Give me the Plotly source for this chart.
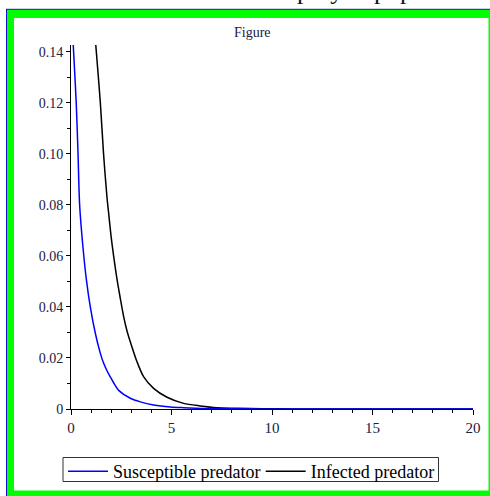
import plotly.graph_objects as go

# ---------------- data ----------------
t_susceptible = [0.05, 0.13, 0.26, 0.35, 0.43, 0.60, 0.76, 0.96, 1.21, 1.46, 1.62, 1.79,
                 1.96, 2.12, 2.40, 2.95, 3.45, 4.11, 4.94, 5.60, 6.20, 6.80, 7.50, 8.50,
                 10, 12, 15, 20]
v_susceptible = [0.152, 0.140, 0.120, 0.100, 0.080, 0.063, 0.051, 0.040, 0.0297, 0.0218,
                 0.0180, 0.0150, 0.0125, 0.0103, 0.0071, 0.0042, 0.0028, 0.0016, 0.0008,
                 0.0005, 0.0003, 0.0002, 0.0001, 0.00005, 0.00002, 0.00001, 0, 0]

t_infected = [1.14, 1.26, 1.46, 1.62, 1.79, 1.87, 1.99, 2.12, 2.29, 2.45, 2.62, 2.79,
              3.03, 3.28, 3.61, 4.11, 4.78, 5.60, 6.43, 7.26, 8.26, 9.5, 11, 13, 16, 20]
v_infected = [0.152, 0.140, 0.120, 0.100, 0.083, 0.077, 0.068, 0.060, 0.0508, 0.0435,
              0.0362, 0.0305, 0.0244, 0.0186, 0.0127, 0.0081, 0.0046, 0.0022, 0.0012,
              0.0005, 0.0003, 0.0001, 0.00004, 0.00001, 0, 0]

series_names = ["Susceptible predator", "Infected predator"]
x_ticks = [0, 5, 10, 15, 20]
y_ticks = [0, 0.02, 0.04, 0.06, 0.08, 0.10, 0.12, 0.14]
y_tick_labels = ["0", "0.02", "0.04", "0.06", "0.08", "0.10", "0.12", "0.14"]
title_text = "Figure"
caption_words = ["FIGURE 8:", "Interaction", "of", "prey", "population"]

# ---------------- layout geometry ----------------
W, H = 490, 496
L, R, T, B = 71, 17, 45, 87
PW, PH = W - L - R, H - T - B
BASE = H - B


def px(x):
    return (x - L) / PW


def py(y):
    return (BASE - y) / PH


SERIF = "Liberation Serif"
TXT = "#202040"

fig = go.Figure()
fig.add_trace(go.Scatter(x=t_infected, y=v_infected, mode="lines", name=series_names[1],
                         line=dict(color="#000000", width=1.5, shape="spline", smoothing=0.8),
                         legendrank=2))
fig.add_trace(go.Scatter(x=t_susceptible, y=v_susceptible, mode="lines", name=series_names[0],
                         line=dict(color="#0000ff", width=1.5, shape="spline", smoothing=0.8),
                         legendrank=1))

shapes = []
# green frame with thin blue outer edge
green = "#00ff00"
for (x0, y0, x1, y1) in [(7, 9.8, 14, 496), (7, 9.8, 490, 18), (488.5, 9.8, 490, 496),
                         (7, 490.5, 490, 496)]:
    shapes.append(dict(type="rect", xref="paper", yref="paper", x0=px(x0), x1=px(x1),
                       y0=py(y1), y1=py(y0), fillcolor=green, line=dict(width=0), layer="above"))
shapes.append(dict(type="line", xref="paper", yref="paper", x0=px(6.5), x1=px(6.5),
                   y0=py(496), y1=py(9), line=dict(color="#1010d0", width=1)))
shapes.append(dict(type="line", xref="paper", yref="paper", x0=px(6), x1=px(490),
                   y0=py(9.3), y1=py(9.3), line=dict(color="#101090", width=1)))
# legend frame
shapes.append(dict(type="rect", xref="paper", yref="paper", x0=px(63), x1=px(438.5),
                   y0=py(481.5), y1=py(457.5), line=dict(color="#333333", width=1),
                   fillcolor="rgba(0,0,0,0)", layer="below"))

annotations = []
# partially visible caption above the frame (cut by the page top)
cap_x = [112, 147, 266, 295, 372]
cap_anchor = ["right", "left", "left", "left", "left"]
for word, xx, anc in zip(caption_words, cap_x, cap_anchor):
    annotations.append(dict(text=word, xref="paper", yref="paper", x=px(xx), y=py(-9.5),
                            xanchor=anc, yanchor="middle", showarrow=False,
                            font=dict(family=SERIF, size=26, color="#111111")))
annotations.append(dict(text=title_text, xref="paper", yref="paper", x=px(252), y=py(33),
                        xanchor="center", yanchor="middle", showarrow=False,
                        font=dict(family=SERIF, size=14, color=TXT)))

fig.update_layout(
    width=W, height=H,
    margin=dict(l=L, r=R, t=T, b=B, pad=0, autoexpand=False),
    paper_bgcolor="white", plot_bgcolor="white",
    showlegend=True,
    legend=dict(orientation="h", x=px(63), xanchor="left", y=py(471.5), yanchor="middle",
                borderwidth=0, bgcolor="rgba(0,0,0,0)",
                font=dict(family=SERIF, size=18, color="black"), itemwidth=40,
                entrywidth=142.7, entrywidthmode="pixels", tracegroupgap=0),
    shapes=shapes, annotations=annotations,
    xaxis=dict(range=[0, 20], showline=True, linecolor="black", linewidth=1,
               ticks="outside", ticklen=5, tickcolor="black", tickwidth=1,
               tickmode="array", tickvals=x_ticks, showgrid=False, zeroline=False,
               minor=dict(ticks="outside", ticklen=3, tickcolor="black", tickmode="linear",
                          tick0=0, dtick=1, showgrid=False),
               tickfont=dict(family=SERIF, size=15, color=TXT)),
    yaxis=dict(range=[0, 0.1427], showline=True, linecolor="black", linewidth=1,
               ticks="outside", ticklen=4, tickcolor="black", tickwidth=1,
               tickmode="array", tickvals=y_ticks, ticktext=y_tick_labels,
               showgrid=False, zeroline=False,
               minor=dict(ticks="outside", ticklen=3, tickcolor="black", tickmode="linear",
                          tick0=0, dtick=0.01, showgrid=False),
               tickfont=dict(family=SERIF, size=14, color=TXT)),
)

fig.write_html("out.html")
